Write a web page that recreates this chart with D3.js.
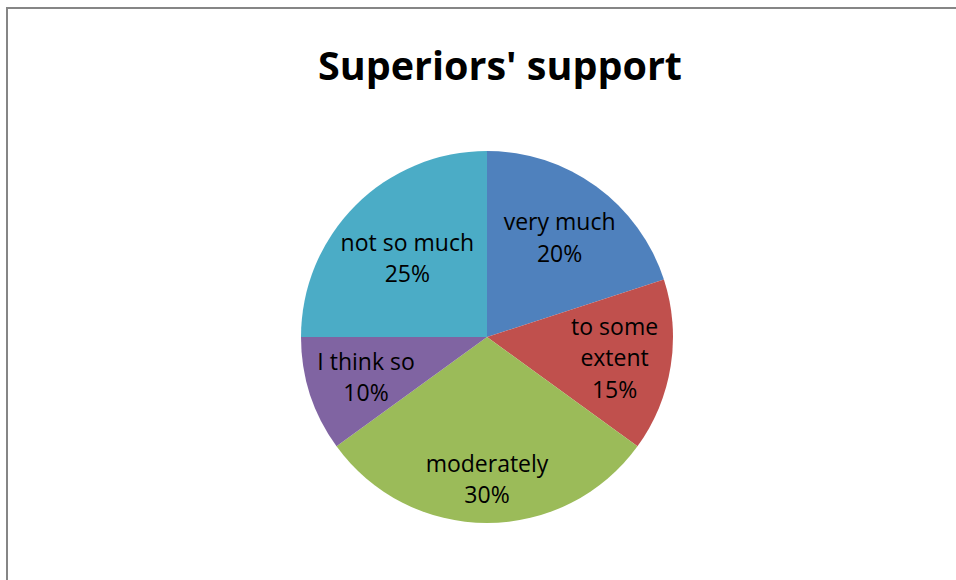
<!DOCTYPE html>
<html>
<head>
<meta charset="utf-8">
<script src="https://cdn.jsdelivr.net/npm/d3@7"></script>
<style>
  html, body { margin: 0; padding: 0; background: #fff; }
  svg { display: block; }
</style>
</head>
<body>
<svg id="chart" width="956" height="580"></svg>
<script>
const title = "Superiors' support";
const categories = ["very much", "to some extent", "moderately", "I think so", "not so much"];
const values = [20, 15, 30, 10, 25];
const labelLines = [["very much"], ["to some", "extent"], ["moderately"], ["I think so"], ["not so much"]];
const colors = ["#4F81BD", "#C0504D", "#9BBB59", "#8064A2", "#4BACC6"];

const W = 956, H = 580;
const svg = d3.select("#chart");

svg.append("rect")
  .attr("x", 7).attr("y", 8)
  .attr("width", 1200).attr("height", 1200)
  .attr("fill", "#fff")
  .attr("stroke", "#868686")
  .attr("stroke-width", 2);

svg.append("text")
  .attr("x", 500).attr("y", 80)
  .attr("text-anchor", "middle")
  .attr("font-family", "'Open Sans', sans-serif")
  .attr("font-weight", "bold")
  .attr("font-size", 39.5)
  .attr("fill", "#000")
  .text(title);

const cx = 487, cy = 337, R = 186;
const total = d3.sum(values);
const data = categories.map((c, i) => ({ cat: c, value: values[i], lines: labelLines[i], color: colors[i] }));

const pie = d3.pie().value(d => d.value).sort(null);
const arcs = pie(data);
const arc = d3.arc().innerRadius(0).outerRadius(R);

const g = svg.append("g").attr("transform", `translate(${cx},${cy})`);
g.selectAll("path.slice")
  .data(arcs)
  .join("path")
  .attr("class", "slice")
  .attr("d", arc)
  .attr("fill", d => d.data.color);

const fmt = d3.format(".0%");
const lineH = 31.5;
const labels = g.selectAll("text.lbl")
  .data(arcs)
  .join("text")
  .attr("class", "lbl")
  .attr("text-anchor", "middle")
  .attr("font-family", "'Open Sans', sans-serif")
  .attr("font-size", 23)
  .attr("fill", "#000");

labels.each(function(d) {
  const t = d3.select(this);
  const lines = d.data.lines.concat([fmt(d.data.value / total)]);
  lines.forEach((s, k) => {
    t.append("tspan").attr("x", 0).attr("y", k * lineH).text(s);
  });
});

// label along the slice bisector, pushed outward until its box just fits inside the pie
labels.each(function(d) {
  const t = d3.select(this);
  const bb = this.getBBox();
  const mid = (d.startAngle + d.endAngle) / 2;
  const ux = Math.sin(mid), uy = -Math.cos(mid);
  const bw = bb.width, bh = bb.height;
  const offY = bb.y + bh / 2;
  const fits = r => {
    const x0 = ux * r - bw / 2, x1 = ux * r + bw / 2;
    const y0 = uy * r - bh / 2, y1 = uy * r + bh / 2;
    return [[x0, y0], [x1, y0], [x0, y1], [x1, y1]].every(p => Math.hypot(p[0], p[1]) <= R - 2);
  };
  let lo = 0, hi = R;
  for (let k = 0; k < 40; k++) {
    const m = (lo + hi) / 2;
    if (fits(m)) lo = m; else hi = m;
  }
  const r = lo;
  t.attr("transform", `translate(${ux * r},${uy * r - offY})`);
});
</script>
</body>
</html>
